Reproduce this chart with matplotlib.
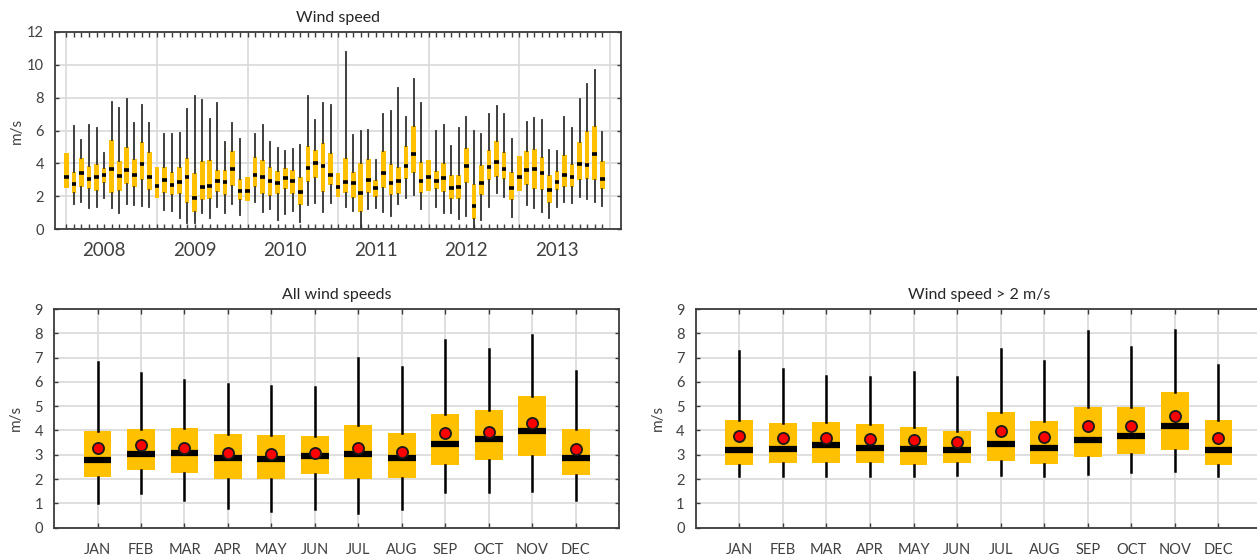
import numpy as np
import matplotlib.pyplot as plt

plt.rcParams['font.family'] = ['Lato', 'DejaVu Sans']

YELLOW = '#FFC000'
GRID = '#d9d9d9'
SPINE = '#3c3c3c'
TEXT = '#404040'

# monthly statistics Jan 2008 .. Dec 2013 (NaN = no whisker drawn)
m_lo = [np.nan, 1.52, 1.64, 1.32, 1.34, 1.88, 1.32, 0.97, 1.54, 1.46, 1.40, 1.38,
        np.nan, 1.17, 1.11, 0.71, 0.40, 0.36, 1.00, 0.67, 1.34, 0.97, 1.52, 0.87,
        np.nan, 1.66, 1.03, 1.21, 0.57, 0.90, 1.10, 0.47, 1.48, 1.62, 1.07, 1.62,
        np.nan, 1.38, 1.11, 0.00, 1.21, 1.32, 1.03, 0.83, 1.54, 1.88, 2.06, 1.21,
        np.nan, 1.38, 0.97, 0.97, 0.65, 0.81, 0.05, 0.57, 1.38, 2.19, 1.94, 0.73,
        np.nan, 1.48, 1.28, 1.03, 0.67, 1.38, 1.68, 1.58, 1.98, 1.84, 1.64, 1.44]
m_q1 = [2.49, 2.23, 2.59, 2.43, 2.35, 2.79, 2.19, 2.33, 2.75, 2.59, 2.98, 2.39,
        1.92, 2.23, 2.09, 2.15, 1.62, 1.03, 1.78, 1.82, 2.27, 2.06, 2.65, 1.76,
        1.72, 2.55, 2.15, 2.04, 2.13, 2.43, 2.15, 1.48, 2.89, 3.14, 2.29, 2.67,
        1.98, 2.19, 1.92, 1.03, 2.19, 1.98, 2.53, 2.09, 2.15, 3.04, 3.40, 2.23,
        2.33, 2.43, 2.25, 1.82, 1.82, 2.79, 0.60, 2.09, 3.00, 3.20, 3.04, 1.78,
        2.35, 2.67, 2.43, 2.39, 1.62, 2.39, 2.59, 2.59, 3.00, 3.04, 3.00, 2.43]
m_med = [3.20, 2.73, 3.44, 3.04, 3.20, 3.30, 3.66, 3.26, 3.60, 3.28, 3.97, 3.16,
         2.65, 2.98, 2.71, 2.85, 3.20, 1.90, 2.59, 2.65, 2.96, 2.87, 3.66, 2.33,
         2.33, 3.28, 3.16, 2.94, 2.83, 3.12, 2.91, 2.25, 3.72, 4.01, 3.87, 3.28,
         2.60, 2.87, 2.79, 2.21, 3.00, 2.49, 3.44, 2.83, 2.92, 3.85, 4.60, 2.92,
         3.18, 2.96, 3.12, 2.53, 2.59, 3.87, 1.44, 2.83, 3.81, 4.11, 3.66, 2.49,
         3.20, 3.58, 3.68, 3.42, 2.37, 2.87, 3.30, 3.20, 3.97, 3.89, 4.57, 3.08]
m_q3 = [4.62, 3.46, 4.31, 3.85, 3.95, 3.70, 5.43, 4.15, 5.00, 4.29, 5.30, 4.72,
        3.81, 3.81, 3.50, 3.77, 4.35, 3.44, 4.15, 4.21, 3.62, 3.58, 4.76, 3.08,
        3.16, 4.37, 4.19, 3.77, 3.56, 3.72, 3.62, 3.16, 5.04, 4.84, 5.22, 4.62,
        3.40, 4.35, 3.50, 4.01, 4.25, 2.98, 4.76, 3.97, 3.81, 5.08, 6.28, 4.11,
        4.21, 3.54, 4.01, 3.30, 3.30, 4.92, 2.75, 3.91, 4.82, 5.38, 4.68, 3.46,
        4.45, 4.76, 4.88, 4.41, 3.30, 3.54, 4.49, 3.95, 5.32, 5.97, 6.28, 4.15]
m_hi = [np.nan, 6.28, 5.43, 6.34, 6.13, 4.66, 7.71, 7.35, 7.89, 6.48, 7.53, 6.46,
        np.nan, 5.77, 5.77, 5.83, 7.29, 8.12, 7.85, 6.68, 7.65, 5.30, 6.48, 5.49,
        np.nan, 5.77, 6.32, 5.32, 4.96, 4.76, 4.86, 5.14, 8.10, 6.64, 7.69, 7.57,
        np.nan, 10.79, 5.73, 5.97, 6.03, 4.21, 7.00, 7.19, 8.60, 6.84, 9.11, 7.65,
        np.nan, 5.97, 6.34, 5.08, 6.13, 6.80, 5.97, 5.79, 6.98, 7.49, 6.98, 5.49,
        np.nan, 6.54, 6.74, 6.64, 4.82, 4.78, 6.84, 6.13, 7.89, 8.83, 9.68, 5.93]
years = ['2008', '2009', '2010', '2011', '2012', '2013']

months = ['JAN', 'FEB', 'MAR', 'APR', 'MAY', 'JUN', 'JUL', 'AUG', 'SEP', 'OCT', 'NOV', 'DEC']

# all wind speeds, by calendar month
all_lo = [1.03, 1.41, 1.14, 0.80, 0.69, 0.76, 0.59, 0.76, 1.47, 1.47, 1.52, 1.14]
all_q1 = [2.07, 2.38, 2.27, 1.99, 1.99, 2.21, 2.02, 2.05, 2.58, 2.79, 2.93, 2.17]
all_med = [2.79, 3.02, 3.08, 2.86, 2.83, 2.93, 3.02, 2.86, 3.45, 3.64, 3.98, 2.86]
all_q3 = [3.96, 4.08, 4.12, 3.87, 3.80, 3.78, 4.22, 3.91, 4.68, 4.84, 5.43, 4.07]
all_hi = [6.80, 6.36, 6.09, 5.92, 5.84, 5.78, 6.98, 6.61, 7.71, 7.35, 7.94, 6.43]
all_mean = [3.27, 3.41, 3.30, 3.06, 3.02, 3.06, 3.30, 3.13, 3.89, 3.93, 4.30, 3.24]

# wind speed > 2 m/s, by calendar month
gt2_lo = [2.12, 2.12, 2.12, 2.12, 2.12, 2.16, 2.16, 2.12, 2.22, 2.29, 2.34, 2.12]
gt2_q1 = [2.60, 2.66, 2.68, 2.66, 2.60, 2.66, 2.74, 2.63, 2.90, 3.05, 3.19, 2.58]
gt2_med = [3.18, 3.25, 3.40, 3.26, 3.25, 3.21, 3.45, 3.26, 3.62, 3.77, 4.19, 3.18]
gt2_q3 = [4.42, 4.30, 4.33, 4.27, 4.14, 3.97, 4.75, 4.40, 4.96, 4.96, 5.59, 4.42]
gt2_hi = [7.26, 6.55, 6.23, 6.19, 6.40, 6.21, 7.37, 6.88, 8.08, 7.44, 8.15, 6.68]
gt2_mean = [3.79, 3.70, 3.70, 3.63, 3.59, 3.53, 3.96, 3.73, 4.18, 4.18, 4.58, 3.70]


def make_stats(lo, q1, med, q3, hi, mean=None):
    stats = []
    for i in range(len(med)):
        d = dict(q1=q1[i], med=med[i], q3=q3[i],
                 whislo=q1[i] if np.isnan(lo[i]) else lo[i],
                 whishi=q3[i] if np.isnan(hi[i]) else hi[i],
                 fliers=[])
        if mean is not None:
            d['mean'] = mean[i]
        stats.append(d)
    return stats


def style_axes(ax):
    for s in ax.spines.values():
        s.set_color(SPINE)
        s.set_linewidth(1.3)
    ax.tick_params(which='both', direction='in', top=True, right=True,
                   colors=SPINE, labelcolor=TEXT, width=1.0)
    ax.set_axisbelow(True)


fig = plt.figure(figsize=(12.57, 5.6), dpi=100)

# ---- top: monthly series ----
ax = fig.add_axes([0.0438, 0.5905, 0.4503, 0.3529])
n = len(m_med)
pos = np.arange(n)
ax.bxp(make_stats(m_lo, m_q1, m_med, m_q3, m_hi), positions=pos, widths=0.62,
       patch_artist=True, showcaps=False, showfliers=False,
       boxprops=dict(facecolor=YELLOW, edgecolor=YELLOW, linewidth=0),
       medianprops=dict(color='black', linewidth=2.6, solid_capstyle='butt'),
       whiskerprops=dict(color='#303030', linewidth=1.3))
ax.set_xlim(-1.5, n + 1.5)
ax.set_ylim(0, 12)
ax.set_yticks(np.arange(0, 13, 2))
ax.yaxis.grid(True, color=GRID, linewidth=1.2)
for x in range(0, n + 1, 12):
    ax.axvline(x, color=GRID, linewidth=1.2, zorder=0)
ax.set_xticks(np.arange(5, n, 12))
ax.set_xticklabels(years, fontsize=13.5, color=TEXT)
ax.set_xticks(pos, minor=True)
style_axes(ax)
ax.tick_params(axis='x', which='both', length=3.5)
ax.tick_params(axis='x', which='major', pad=9)
ax.tick_params(axis='y', length=3, pad=8, labelsize=10.5)
ax.set_ylabel('m/s', fontsize=11, color=TEXT, labelpad=2)
ax.set_title('Wind speed', fontsize=11.5, color='#262626', pad=7)

# ---- bottom: monthly climatology ----
panels = [
    ([0.0430, 0.0577, 0.4495, 0.3905], 'All wind speeds',
     make_stats(all_lo, all_q1, all_med, all_q3, all_hi, all_mean)),
    ([0.5535, 0.0577, 0.4505, 0.3905], 'Wind speed > 2 m/s',
     make_stats(gt2_lo, gt2_q1, gt2_med, gt2_q3, gt2_hi, gt2_mean)),
]
mpos = np.arange(1, len(months) + 1)
for rect, title, stats in panels:
    ax = fig.add_axes(rect)
    ax.bxp(stats, positions=mpos, widths=0.64, patch_artist=True,
           showcaps=False, showfliers=False, showmeans=True,
           boxprops=dict(facecolor=YELLOW, edgecolor=YELLOW, linewidth=0),
           medianprops=dict(color='black', linewidth=4.5, solid_capstyle='butt'),
           whiskerprops=dict(color='black', linewidth=1.8),
           meanprops=dict(marker='o', markerfacecolor='#ff0000',
                          markeredgecolor='#1a1a1a', markersize=8,
                          markeredgewidth=1.3))
    ax.set_xlim(0, 13)
    ax.set_ylim(0, 9)
    ax.set_yticks(np.arange(0, 10))
    ax.set_xticks(mpos)
    ax.set_xticklabels(months, fontsize=10.5, color=TEXT)
    ax.grid(True, color=GRID, linewidth=1.2)
    style_axes(ax)
    ax.tick_params(axis='x', length=3.5, pad=11)
    ax.tick_params(axis='y', length=3, pad=8, labelsize=10.5)
    ax.set_ylabel('m/s', fontsize=11, color=TEXT, labelpad=8)
    ax.set_title(title, fontsize=11.5, color='#262626', pad=7)

fig.savefig('out.png', dpi=100)
